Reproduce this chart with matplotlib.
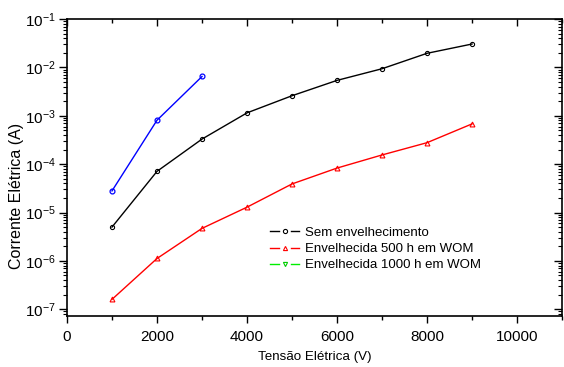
import matplotlib
matplotlib.use("Agg")
import matplotlib.pyplot as plt
from matplotlib.lines import Line2D
from matplotlib.legend_handler import HandlerTuple
from matplotlib.ticker import FixedLocator, LogLocator, MultipleLocator, NullFormatter

plt.rcParams['font.family'] = ['Liberation Sans', 'DejaVu Sans']
plt.rcParams['mathtext.default'] = 'regular'

# Applied voltage (V)
tensao = [1000, 2000, 3000, 4000, 5000, 6000, 7000, 8000, 9000]
tensao_1000h = [1000, 2000, 3000]

# Measured current (A)
corrente_sem = [5.0e-6, 7.1e-5, 3.3e-4, 1.15e-3, 2.6e-3, 5.4e-3, 9.4e-3, 1.96e-2, 3.05e-2]
corrente_500h = [1.6e-7, 1.12e-6, 4.7e-6, 1.29e-5, 3.9e-5, 8.3e-5, 1.55e-4, 2.78e-4, 6.8e-4]
corrente_1000h = [2.8e-5, 8.1e-4, 6.5e-3]

# Decade ticks on the current axis
y_decadas = [1e-7, 1e-6, 1e-5, 1e-4, 1e-3, 1e-2, 1e-1]

labels = ["Sem envelhecimento", "Envelhecida 500 h em WOM", "Envelhecida 1000 h em WOM"]

fig = plt.figure(figsize=(5.64, 3.67), dpi=100)
ax = fig.add_axes([0.1188, 0.139, 0.8777, 0.809])

ax.plot(tensao, corrente_sem, color='black', lw=1, marker='o', ms=3,
        mfc='none', mew=0.8)
ax.plot(tensao, corrente_500h, color='red', lw=1, marker='^', ms=3.5,
        mfc='none', mew=0.8)
ax.plot(tensao_1000h, corrente_1000h, color='blue', lw=1, marker='o', ms=3.5,
        mfc='none', mew=0.9)

ax.set_yscale('log')
ax.set_xlim(0, 11000)
ax.set_ylim(7.25e-8, 0.1)

ax.xaxis.set_major_locator(MultipleLocator(2000))
ax.xaxis.set_minor_locator(MultipleLocator(1000))
ax.yaxis.set_major_locator(FixedLocator(y_decadas))
ax.yaxis.set_minor_locator(LogLocator(base=10, subs=range(2, 10), numticks=20))
ax.yaxis.set_minor_formatter(NullFormatter())

ax.tick_params(axis='x', which='major', direction='out', length=5, width=1,
               labelsize=11, pad=5, top=True)
ax.tick_params(axis='x', which='minor', direction='out', length=3, width=1, top=True)
ax.tick_params(axis='y', which='major', direction='out', length=6, width=1,
               labelsize=11, pad=2, right=True)
ax.tick_params(axis='y', which='minor', direction='out', length=3, width=0.8, right=True)
# mirrored ticks on the top and right sides point into the plot
for t in ax.xaxis.get_major_ticks() + ax.xaxis.get_minor_ticks():
    t.tick2line.set_marker(3)
for t in ax.yaxis.get_major_ticks() + ax.yaxis.get_minor_ticks():
    t.tick2line.set_marker(0)

for s in ax.spines.values():
    s.set_linewidth(1.2)

ax.set_xlabel("Tensão Elétrica (V)", fontsize=9.6, labelpad=5)
ax.set_ylabel("Corrente Elétrica (A)", fontsize=11.5)
ax.yaxis.set_label_coords(-0.087, 0.404)


def seg(color):
    return Line2D([], [], color=color, lw=1)


def mk(color, marker):
    return Line2D([], [], color=color, lw=0, marker=marker, ms=3, mfc='none', mew=0.8)


handles = [
    (seg('black'), mk('black', 'o'), seg('black')),
    (seg('red'), mk('red', '^'), seg('red')),
    (seg('#00ee00'), mk('#00cc00', 'v'), seg('#00ee00')),
]
ax.legend(handles, labels, handler_map={tuple: HandlerTuple(ndivide=None, pad=0.15)},
          loc='upper left', bbox_to_anchor=(0.40, 0.318), frameon=False,
          fontsize=9.5, handlelength=2.2, handletextpad=0.4, labelspacing=0.3,
          borderaxespad=0)

fig.savefig("out.png", dpi=100)
